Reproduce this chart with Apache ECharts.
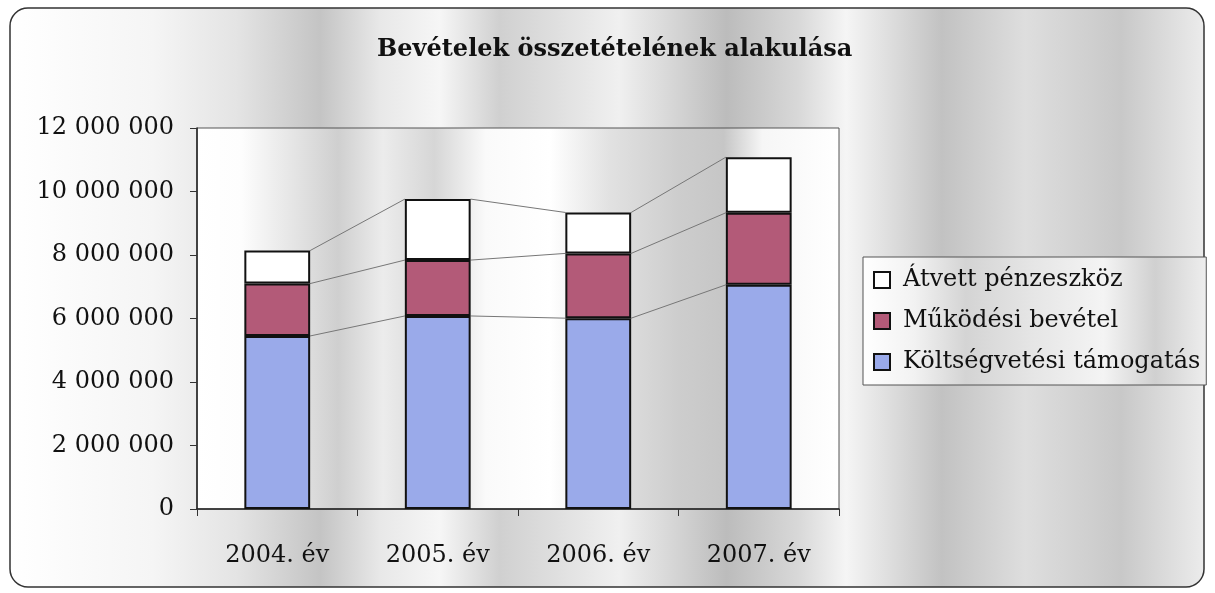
<!DOCTYPE html>
<html>
<head>
<meta charset="utf-8">
<script src="https://cdn.jsdelivr.net/npm/echarts@6/dist/echarts.min.js"></script>
<style>
html,body{margin:0;padding:0;background:#fff;}
#c{width:1215px;height:593px;}
</style>
</head>
<body>
<div id="c"></div>
<script>
// ---- data ----
const categories = ['2004. év', '2005. év', '2006. év', '2007. év'];
const koltsegvetesi = [5450000, 6080000, 6010000, 7060000];
const mukodesi = [1650000, 1760000, 2040000, 2270000];
const atvett = [1040000, 1920000, 1290000, 1750000];
const seriesNames = ['Költségvetési támogatás', 'Működési bevétel', 'Átvett pénzeszköz'];
const legendOrder = ['Átvett pénzeszköz', 'Működési bevétel', 'Költségvetési támogatás'];
const yMin = 0, yMax = 12000000, yInterval = 2000000;

const FONT = 'DejaVu Serif';
const chart = echarts.init(document.getElementById('c'));

// cumulative levels for the series lines between bars
const stacks = [koltsegvetesi, mukodesi, atvett];
const cum = stacks.map((s, k) => s.map((v, i) => stacks.slice(0, k + 1).reduce((a, ss) => a + ss[i], 0)));
const lineData = [];
for (let i = 0; i < categories.length - 1; i++) {
  for (let k = 0; k < cum.length; k++) lineData.push([i, cum[k][i], cum[k][i + 1]]);
}

const BAR_FRAC = 0.41;
const pageGrad = new echarts.graphic.LinearGradient(0, 0, 1, 0, [
  {offset: 0, color: '#ffffff'}, {offset: 0.12, color: '#f5f5f5'},
  {offset: 0.19, color: '#e4e4e4'}, {offset: 0.26, color: '#c4c4c4'},
  {offset: 0.31, color: '#e8e8e8'}, {offset: 0.36, color: '#f6f6f6'},
  {offset: 0.41, color: '#d0d0d0'}, {offset: 0.46, color: '#e0e0e0'},
  {offset: 0.51, color: '#f0f0f0'}, {offset: 0.60, color: '#bcbcbc'},
  {offset: 0.66, color: '#d8d8d8'}, {offset: 0.70, color: '#f5f5f5'},
  {offset: 0.78, color: '#c2c2c2'}, {offset: 0.85, color: '#dedede'},
  {offset: 0.93, color: '#c8c8c8'}, {offset: 1, color: '#ececec'}
]);
const plotGrad = new echarts.graphic.LinearGradient(0, 0, 1, 0, [
  {offset: 0, color: '#ffffff'}, {offset: 0.07, color: '#fdfdfd'},
  {offset: 0.16, color: '#e2e2e2'}, {offset: 0.22, color: '#cfcfcf'},
  {offset: 0.29, color: '#ececec'}, {offset: 0.37, color: '#d6d6d6'},
  {offset: 0.45, color: '#fafafa'}, {offset: 0.55, color: '#ffffff'},
  {offset: 0.64, color: '#e2e2e2'}, {offset: 0.75, color: '#cdcdcd'},
  {offset: 0.82, color: '#c6c6c6'}, {offset: 0.88, color: '#f6f6f6'},
  {offset: 1, color: '#ffffff'}
]);
const legendGrad = new echarts.graphic.LinearGradient(0, 0, 1, 0, [
  {offset: 0, color: '#ffffff'}, {offset: 0.15, color: '#f2f2f2'},
  {offset: 0.3, color: '#d4d4d4'}, {offset: 0.5, color: '#e6e6e6'},
  {offset: 0.7, color: '#f4f4f4'}, {offset: 0.85, color: '#d0d0d0'},
  {offset: 1, color: '#eeeeee'}
]);

const option = {
  animation: false,
  backgroundColor: '#ffffff',
  graphic: [{
    type: 'rect', z: -10, silent: true,
    shape: {x: 10, y: 8, width: 1194, height: 579, r: 18},
    style: {fill: pageGrad, stroke: '#333', lineWidth: 1.5}
  }],
  title: {
    text: 'Bevételek összetételének alakulása',
    left: 372, top: 33,
    textStyle: {fontFamily: FONT, fontSize: 24, fontWeight: 'bold', color: '#111'}
  },
  legend: {
    orient: 'vertical', left: 863, top: 257,
    data: legendOrder,
    padding: [11, 6, 11, 10], itemGap: 17,
    itemWidth: 16, itemHeight: 16,
    backgroundColor: legendGrad, borderColor: '#555', borderWidth: 1,
    textStyle: {fontFamily: FONT, fontSize: 24, color: '#111', padding: [0, 0, 0, 8]},
    icon: 'rect'
  },
  grid: {
    left: 197, top: 128, width: 642, height: 381,
    show: true, backgroundColor: plotGrad, borderColor: '#555', borderWidth: 1
  },
  xAxis: {
    type: 'category', data: categories,
    axisLine: {lineStyle: {color: '#222', width: 1.5}},
    axisTick: {show: true, length: 7, lineStyle: {color: '#333'}},
    axisLabel: {fontFamily: FONT, fontSize: 24, color: '#111', margin: 35}
  },
  yAxis: {
    type: 'value', min: yMin, max: yMax, interval: yInterval,
    axisLine: {show: true, lineStyle: {color: '#222', width: 1.5}},
    axisTick: {show: true, length: 7, lineStyle: {color: '#333'}},
    splitLine: {show: false},
    axisLabel: {
      fontFamily: FONT, fontSize: 24, color: '#111', margin: 23,
      formatter: v => String(v).replace(/\B(?=(\d{3})+(?!\d))/g, ' ')
    }
  },
  series: [
    {name: seriesNames[0], type: 'bar', stack: 'a', barWidth: (BAR_FRAC * 100) + '%', data: koltsegvetesi,
      itemStyle: {color: '#9aaaea', borderColor: '#111', borderWidth: 2}},
    {name: seriesNames[1], type: 'bar', stack: 'a', barWidth: (BAR_FRAC * 100) + '%', data: mukodesi,
      itemStyle: {color: '#b35a78', borderColor: '#111', borderWidth: 2}},
    {name: seriesNames[2], type: 'bar', stack: 'a', barWidth: (BAR_FRAC * 100) + '%', data: atvett,
      itemStyle: {color: '#ffffff', borderColor: '#111', borderWidth: 2}},
    {
      type: 'custom', name: 'serieslines', silent: true, z: 1,
      data: lineData,
      encode: {x: 0, y: [1, 2]},
      renderItem: function (params, api) {
        const i = api.value(0);
        const p1 = api.coord([i, api.value(1)]);
        const p2 = api.coord([i + 1, api.value(2)]);
        const hw = api.size([1, 0])[0] * BAR_FRAC / 2;
        return {
          type: 'line',
          shape: {x1: p1[0] + hw, y1: p1[1], x2: p2[0] - hw, y2: p2[1]},
          style: {stroke: '#777', lineWidth: 1}
        };
      }
    }
  ]
};
chart.setOption(option);
</script>
</body>
</html>
